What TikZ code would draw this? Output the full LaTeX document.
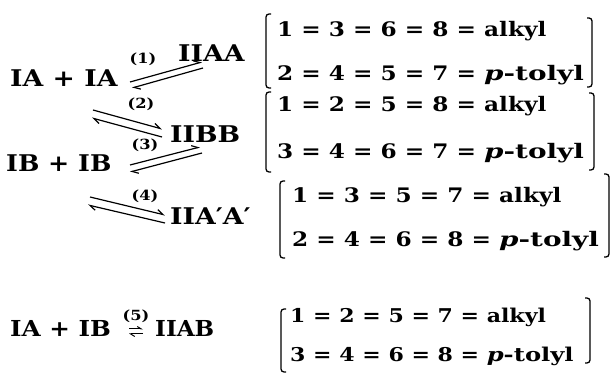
\documentclass[tikz,border=0pt]{standalone}
\usepackage{fontspec}
\setmainfont{DejaVu Serif}
\usetikzlibrary{arrows.meta}
\newcommand{\wid}[1]{\scalebox{1.16}[1]{#1}}
\newcommand{\ptol}{\scalebox{1.2}[1]{\textit{p}-tolyl}}
\newcommand{\ptolb}{\scalebox{1.1}[1]{\textit{p}-tolyl}}
\tikzset{
  species/.style={anchor=base west, inner sep=0pt, font=\fontsize{23}{23}\selectfont\bfseries},
  specsmall/.style={anchor=base west, inner sep=0pt, font=\fontsize{22}{22}\selectfont\bfseries},
  rowtxt/.style={anchor=base west, inner sep=0pt, font=\fontsize{20}{20}\selectfont\bfseries},
  rowsmall/.style={anchor=base west, inner sep=0pt, font=\fontsize{19}{19}\selectfont\bfseries},
  lab/.style={inner sep=0pt, font=\fontsize{14}{14}\selectfont\bfseries},
  harp/.style={line width=1.2pt, -{Straight Barb[left,length=6pt,width=7pt]}},
  smallharp/.style={line width=1pt, -{Straight Barb[left,length=4pt,width=5pt]}},
  brk/.style={line width=1.3pt, rounded corners=3pt},
}
\begin{document}
\begin{tikzpicture}[x=1pt,y=-1pt]
\useasboundingbox (0,0) rectangle (614,374);
% species
\node[species] (iaia) at (10,87) {\wid{IA + IA}};
\node[species] (ibib) at (6,172) {\scalebox{1.1}[1]{IB + IB}};
\node[specsmall] (iaib) at (10,337) {\scalebox{1.12}[1]{IA + IB}};
\node[species] (iiaa) at (178,62) {\wid{IIAA}};
\node[species] (iibb) at (170,143) {\wid{IIBB}};
\node[species] (iiapap) at (170,225) {\wid{IIA′A′}};
\node[specsmall] (iiab) at (155,337) {\scalebox{1.05}[1]{IIAB}};
% labels
\node[lab] (l1) at (143,59) {\wid{(1)}};
\node[lab] (l2) at (141,104) {\wid{(2)}};
\node[lab] (l3) at (145,145) {\wid{(3)}};
\node[lab] (l4) at (145,196) {\wid{(4)}};
\node[lab] (l5) at (136,316) {\wid{(5)}};
% arrow coordinates
\coordinate (a1us) at (130,82);  \coordinate (a1ue) at (202,62);
\coordinate (a1ls) at (203,68);  \coordinate (a1le) at (132,88);
\coordinate (a2us) at (93,110);  \coordinate (a2ue) at (162,129);
\coordinate (a2ls) at (162,137); \coordinate (a2le) at (92,118);
\coordinate (a3us) at (130,165); \coordinate (a3ue) at (200,147);
\coordinate (a3ls) at (202,153); \coordinate (a3le) at (130,172);
\coordinate (a4us) at (90,197);  \coordinate (a4ue) at (165,215);
\coordinate (a4ls) at (165,223); \coordinate (a4le) at (88,205);
\coordinate (a5us) at (129,329); \coordinate (a5ue) at (143,329);
\coordinate (a5ls) at (143,334); \coordinate (a5le) at (129,334);
\draw[harp] (a1us) -- (a1ue);
\draw[harp] (a1ls) -- (a1le);
\draw[harp] (a2us) -- (a2ue);
\draw[harp] (a2ls) -- (a2le);
\draw[harp] (a3us) -- (a3ue);
\draw[harp] (a3ls) -- (a3le);
\draw[harp] (a4us) -- (a4ue);
\draw[harp] (a4ls) -- (a4le);
\draw[smallharp] (a5us) -- (a5ue);
\draw[smallharp] (a5ls) -- (a5le);
% rows
\node[rowtxt] (r1) at (277,37) {\wid{1 = 3 = 6 = 8 = alkyl}};
\node[rowtxt] (r2) at (277,81) {\wid{2 = 4 = 5 = 7 = \ptol}};
\node[rowtxt] (r3) at (277,112) {\wid{1 = 2 = 5 = 8 = alkyl}};
\node[rowtxt] (r4) at (277,159) {\wid{3 = 4 = 6 = 7 = \ptol}};
\node[rowtxt] (r5) at (292,203) {\wid{1 = 3 = 5 = 7 = alkyl}};
\node[rowtxt] (r6) at (292,247) {\wid{2 = 4 = 6 = 8 = \ptol}};
\node[rowsmall] (r7) at (290,323) {\wid{1 = 2 = 5 = 7 = alkyl}};
\node[rowsmall] (r8) at (290,362) {\wid{3 = 4 = 6 = 8 = \ptolb}};
% brackets
\draw[brk] (271,14) -- (266,14) -- (266,88) -- (271,88);
\draw[brk] (587,18) -- (592,18) -- (592,87) -- (587,87);
\draw[brk] (271,92) -- (266,92) -- (266,172) -- (271,172);
\draw[brk] (589,93) -- (594,93) -- (594,170) -- (589,170);
\draw[brk] (285,181) -- (280,181) -- (280,258) -- (285,258);
\draw[brk] (604,174) -- (609,174) -- (609,257) -- (604,257);
\draw[brk] (286,309) -- (281,309) -- (281,372) -- (286,372);
\draw[brk] (585,298) -- (590,298) -- (590,363) -- (585,363);
\end{tikzpicture}
\end{document}
